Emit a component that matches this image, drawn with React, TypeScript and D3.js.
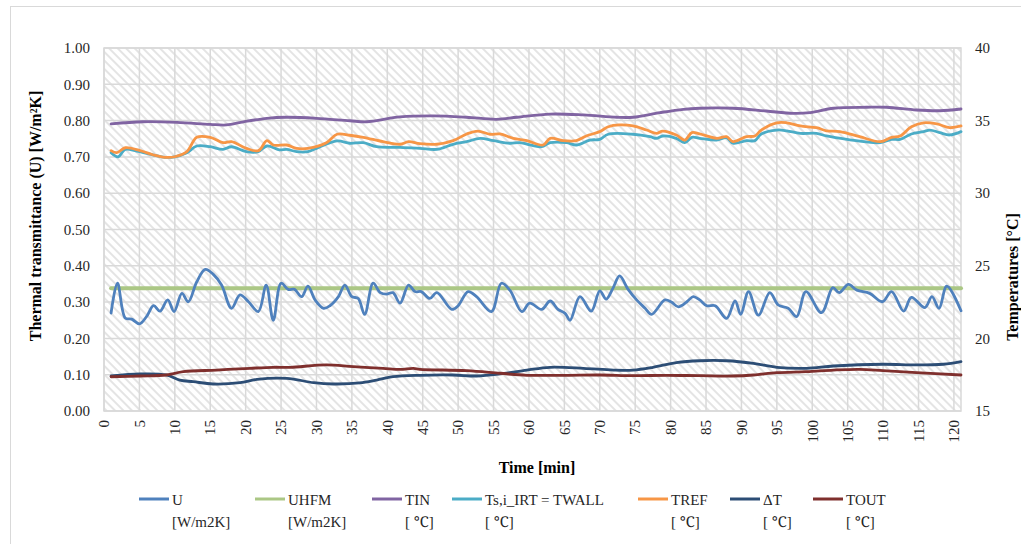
import React from "react";
import * as d3 from "d3";

// time [min] / value pairs
const uData: [number, number][] = [
  [1, 0.27], [1.9, 0.352], [3, 0.256], [3.9, 0.253], [5, 0.24], [6, 0.26], [7, 0.29],
  [7.9, 0.275], [9, 0.306], [9.9, 0.274], [11, 0.324], [11.9, 0.301], [13.1, 0.356],
  [14.3, 0.39], [15.4, 0.377], [16.6, 0.347], [18, 0.283], [19.2, 0.32], [20.4, 0.301],
  [21.8, 0.274], [22.9, 0.347], [23.9, 0.25], [25, 0.352], [26, 0.335], [26.9, 0.335],
  [27.9, 0.315], [28.8, 0.344], [29.8, 0.306], [31, 0.283], [31.9, 0.29], [33.1, 0.315],
  [34, 0.347], [35, 0.315], [35.9, 0.31], [36.8, 0.266], [38, 0.352], [39, 0.326],
  [39.9, 0.322], [40.8, 0.326], [41.8, 0.297], [43, 0.347], [43.9, 0.329], [44.8, 0.329],
  [46, 0.31], [47, 0.326], [49.1, 0.28], [50, 0.29], [51.4, 0.329], [52.6, 0.315],
  [54.7, 0.274], [56.1, 0.352], [57.3, 0.333], [59, 0.274], [60.1, 0.297], [61.8, 0.28],
  [63, 0.303], [64.1, 0.28], [65.1, 0.269], [65.8, 0.25], [67.2, 0.315], [68.8, 0.275],
  [70, 0.331], [70.9, 0.308], [71.9, 0.34], [72.8, 0.372], [74, 0.335], [75.2, 0.306],
  [76.4, 0.283], [77.3, 0.266], [79.2, 0.306], [80.1, 0.3], [81.1, 0.287], [82.3, 0.301],
  [83.2, 0.315], [84.1, 0.306], [85.1, 0.29], [86.3, 0.29], [87.9, 0.255], [89.1, 0.303],
  [89.9, 0.266], [91, 0.329], [92.4, 0.264], [94, 0.326], [95.2, 0.292], [96.6, 0.283],
  [97.8, 0.26], [99.1, 0.329], [101.3, 0.271], [102.9, 0.34], [103.8, 0.326],
  [105.1, 0.349], [106.3, 0.333], [108.1, 0.324], [109.9, 0.301], [111.2, 0.329],
  [112.9, 0.275], [114, 0.313], [115.9, 0.285], [116.9, 0.315], [117.9, 0.283],
  [119, 0.344], [121, 0.276],
];

const uhfmData: [number, number][] = [[1, 0.338], [121, 0.338]];

const tinData: [number, number][] = [
  [1, 34.77], [5.5, 34.92], [10.3, 34.88], [15, 34.74], [17.3, 34.7], [19.7, 34.92],
  [23, 35.16], [25.8, 35.23], [30, 35.16], [34.7, 34.99], [37.1, 34.92], [41.8, 35.25],
  [46.5, 35.32], [51.2, 35.23], [55.4, 35.09], [58.3, 35.23], [63, 35.45], [67.7, 35.39],
  [72.4, 35.23], [74.7, 35.23], [78.5, 35.55], [81.8, 35.78], [84.1, 35.85], [88.8, 35.85],
  [93.5, 35.66], [97.3, 35.5], [99.7, 35.55], [103, 35.85], [107.7, 35.92], [110.5, 35.92],
  [114.7, 35.73], [118, 35.68], [121, 35.8],
];

const twallData: [number, number][] = [
  [1, 32.79], [2, 32.51], [3, 33.02], [4.6, 32.9], [7, 32.63], [8.6, 32.47], [10, 32.51],
  [11.7, 32.79], [13.1, 33.25], [15, 33.2], [16.8, 33.02], [18, 33.2], [20.1, 32.86],
  [21.8, 32.86], [23, 33.25], [24.8, 32.98], [25.8, 33.02], [27.2, 32.86], [28.8, 32.86],
  [30, 33.09], [32.9, 33.6], [34.7, 33.44], [36.6, 33.48], [38.5, 33.2], [41.8, 33.16],
  [44.6, 33.09], [47, 33.02], [49.3, 33.37], [51.2, 33.55], [53.1, 33.78], [55, 33.62],
  [57.3, 33.44], [58.7, 33.48], [60.6, 33.27], [61.8, 33.2], [63, 33.48], [65.3, 33.48],
  [66.7, 33.32], [68.6, 33.66], [70, 33.71], [71.2, 34.06], [74.7, 34.06], [77.1, 33.89],
  [78, 33.78], [78.9, 33.94], [80.8, 33.78], [82, 33.48], [83, 33.85], [84.1, 33.78],
  [86.5, 33.66], [87.9, 33.82], [88.8, 33.44], [90.7, 33.62], [91.9, 33.62], [92.8, 34.08],
  [95, 34.35], [96.4, 34.3], [98.3, 34.12], [100.6, 34.12], [102, 33.94], [104.9, 33.71],
  [109.6, 33.48], [111.2, 33.71], [112.4, 33.71], [114, 34.08], [115.7, 34.24],
  [116.6, 34.35], [118, 34.17], [119.4, 34.01], [121, 34.24],
];

const trefData: [number, number][] = [
  [1, 32.93], [1.8, 32.79], [3, 33.13], [5.1, 32.93], [7, 32.63], [8.6, 32.47], [10, 32.51],
  [11.7, 32.86], [13.1, 33.85], [15, 33.85], [16.8, 33.48], [18, 33.55], [20.1, 33.09],
  [21.8, 32.93], [23, 33.62], [23.9, 33.32], [25.8, 33.32], [27.2, 33.09], [28.8, 33.09],
  [31.4, 33.48], [32.9, 34.06], [34.7, 33.99], [36.6, 33.85], [39.4, 33.55], [41.8, 33.37],
  [43, 33.55], [44.6, 33.41], [47, 33.37], [49.3, 33.62], [51.2, 34.08], [52.8, 34.28],
  [54.5, 34.06], [55.9, 34.08], [57.8, 33.78], [59.7, 33.62], [62, 33.32], [63, 33.78],
  [64.8, 33.62], [66.7, 33.62], [68.1, 33.94], [70, 34.24], [71.2, 34.58], [72.8, 34.7],
  [74.7, 34.63], [76.6, 34.35], [78, 34.12], [78.9, 34.28], [80.8, 34.01], [82, 33.66],
  [83, 34.17], [84.1, 34.08], [86.5, 33.78], [87.9, 33.89], [88.8, 33.55], [90.7, 33.89],
  [91.9, 33.94], [92.8, 34.35], [95, 34.85], [96.4, 34.85], [98.3, 34.63], [100.6, 34.51],
  [102, 34.3], [103.9, 34.24], [106.7, 33.89], [109.6, 33.55], [111.2, 33.85],
  [112.4, 33.94], [114, 34.58], [115.7, 34.85], [117.6, 34.77], [119.4, 34.51], [121, 34.63],
];

const deltaTData: [number, number][] = [
  [1, 17.41], [5.1, 17.55], [8.8, 17.48], [10.7, 17.13], [12.6, 17.02], [15.4, 16.86],
  [19.2, 16.95], [21.6, 17.18], [25.8, 17.25], [29.6, 16.95], [32.4, 16.86], [36.1, 16.93],
  [38.5, 17.13], [40.8, 17.36], [44.6, 17.46], [49.3, 17.48], [52.6, 17.41], [55.9, 17.55],
  [59.7, 17.82], [63, 18.01], [67.7, 17.94], [71.9, 17.82], [74.7, 17.82], [77.5, 18.01],
  [80.8, 18.33], [84.1, 18.46], [87.9, 18.46], [91.7, 18.28], [95, 18.01], [99.2, 17.94],
  [103, 18.1], [110, 18.22], [114.7, 18.17], [118.5, 18.22], [121, 18.4],
];

const toutData: [number, number][] = [
  [1, 17.36], [5.1, 17.41], [8.8, 17.48], [11.2, 17.71], [15.9, 17.82], [20.6, 17.94],
  [23.9, 18.01], [26.3, 18.01], [31.4, 18.17], [35.2, 18.05], [39.4, 17.94], [41.8, 17.87],
  [43.7, 17.94], [44.6, 17.87], [51.2, 17.78], [55.9, 17.6], [59.7, 17.46], [65.3, 17.46],
  [70, 17.48], [74.7, 17.43], [79.4, 17.46], [84.1, 17.43], [88.8, 17.41], [91.7, 17.48],
  [95, 17.64], [99.2, 17.71], [103, 17.82], [106.7, 17.87], [110, 17.78], [114.7, 17.64],
  [121, 17.48],
];

const xTicks = d3.range(0, 121, 5);
const leftTicks = d3.range(0, 1.001, 0.1);
const rightTicks = [15, 20, 25, 30, 35, 40];

const W = 1021;
const H = 544;
const plot = { left: 104, right: 961, top: 48, bottom: 411 };
const font =
  '"Times New Roman", Times, "Liberation Serif", "Nimbus Roman", "Noto Serif", "DejaVu Serif", FreeSerif, serif';
const gridColor = "#d9d9d9";
const textColor = "#262626";

const series = [
  { name: "U", unit: "[W/m2K]", color: "#4F81BD", data: uData, axis: "left", lx: 139 },
  { name: "UHFM", unit: "[W/m2K]", color: "#ABC785", data: uhfmData, axis: "left", lx: 255 },
  { name: "TIN", unit: "[ \u2103]", color: "#8064A2", data: tinData, axis: "right", lx: 372 },
  { name: "Ts,i_IRT = TWALL", unit: "[ \u2103]", color: "#4BACC6", data: twallData, axis: "right", lx: 452 },
  { name: "TREF", unit: "[ \u2103]", color: "#F79646", data: trefData, axis: "right", lx: 638 },
  { name: "\u0394T", unit: "[ \u2103]", color: "#2C4D75", data: deltaTData, axis: "right", lx: 730 },
  { name: "TOUT", unit: "[ \u2103]", color: "#7F2F2D", data: toutData, axis: "right", lx: 813 },
];

export default function App() {
  const x = d3.scaleLinear().domain([0, 121]).range([plot.left, plot.right]);
  const yL = d3.scaleLinear().domain([0, 1]).range([plot.bottom, plot.top]);
  const yR = d3.scaleLinear().domain([15, 40]).range([plot.bottom, plot.top]);

  const drawOrder = [1, 0, 2, 3, 4, 5, 6];
  const txt = { fontFamily: font, fill: textColor } as React.CSSProperties;

  return (
    <svg width={W} height={H} style={{ position: "absolute", left: 0, top: 0 }}>
      <defs>
        <pattern id="hatch" width="6" height="6" patternUnits="userSpaceOnUse" patternTransform="rotate(-45)">
          <rect width="6" height="6" fill="#ffffff" />
          <rect x="0" y="0" width="2" height="6" fill="#e4e4e4" />
        </pattern>
      </defs>
      <rect x={0} y={0} width={W} height={H} fill="#fff" />
      <rect x={10.5} y={6.5} width={W + 10} height={H + 10} fill="#fff" stroke="#d9d9d9" />

      {/* plot area */}
      <rect
        x={plot.left}
        y={plot.top}
        width={plot.right - plot.left}
        height={plot.bottom - plot.top}
        fill="url(#hatch)"
      />
      {leftTicks.map((t) => (
        <line key={"h" + t} x1={plot.left} x2={plot.right} y1={yL(t)} y2={yL(t)} stroke={gridColor} strokeWidth={1.5} />
      ))}
      {xTicks.map((t) => (
        <line key={"v" + t} x1={x(t)} x2={x(t)} y1={plot.top} y2={plot.bottom} stroke={gridColor} strokeWidth={1.5} />
      ))}
      <rect
        x={plot.left}
        y={plot.top}
        width={plot.right - plot.left}
        height={plot.bottom - plot.top}
        fill="none"
        stroke={gridColor}
        strokeWidth={1.5}
      />

      {/* series */}
      {drawOrder.map((i) => {
        const s = series[i];
        const yS = s.axis === "left" ? yL : yR;
        const line = d3
          .line<[number, number]>()
          .x((d) => x(d[0]))
          .y((d) => yS(d[1]))
          .curve(d3.curveCatmullRom.alpha(0.5));
        return (
          <path
            key={s.name}
            d={line(s.data) || ""}
            fill="none"
            stroke={s.color}
            strokeWidth={s.name === "UHFM" ? 4 : 2.8}
            strokeLinejoin="round"
            strokeLinecap="round"
          />
        );
      })}

      {/* left axis */}
      {leftTicks.map((t) => (
        <text key={"lt" + t} x={90} y={yL(t)} dy="0.35em" textAnchor="end" fontSize={15} style={txt}>
          {t.toFixed(2)}
        </text>
      ))}
      {/* right axis */}
      {rightTicks.map((t) => (
        <text key={"rt" + t} x={975} y={yR(t)} dy="0.35em" textAnchor="start" fontSize={15} style={txt}>
          {t}
        </text>
      ))}
      {/* x axis */}
      {xTicks.map((t) => (
        <text
          key={"xt" + t}
          transform={`translate(${x(t)},420) rotate(-90)`}
          dy="0.35em"
          textAnchor="end"
          fontSize={15}
          style={txt}
        >
          {t}
        </text>
      ))}

      <text x={537} y={467} dy="0.35em" textAnchor="middle" fontSize={16} fontWeight="bold" style={{ ...txt, fill: "#000" }}>
        Time [min]
      </text>
      <text
        transform="translate(35,216) rotate(-90)"
        dy="0.35em"
        textAnchor="middle"
        fontSize={16}
        fontWeight="bold"
        style={{ ...txt, fill: "#000" }}
      >
        Thermal transmittance (U) [W/m²K]
      </text>
      <text
        transform="translate(1012,277) rotate(-90)"
        dy="0.35em"
        textAnchor="middle"
        fontSize={16}
        fontWeight="bold"
        style={{ ...txt, fill: "#000" }}
      >
        Temperatures [°C]
      </text>

      {/* legend */}
      {series.map((s) => (
        <g key={"lg" + s.name}>
          <line x1={s.lx} x2={s.lx + 30} y1={499} y2={499} stroke={s.color} strokeWidth={3} />
          <text x={s.lx + 33} y={500} dy="0.35em" fontSize={15} style={txt}>
            {s.name}
          </text>
          <text x={s.lx + 33} y={522} dy="0.35em" fontSize={15} style={txt}>
            {s.unit}
          </text>
        </g>
      ))}
    </svg>
  );
}
